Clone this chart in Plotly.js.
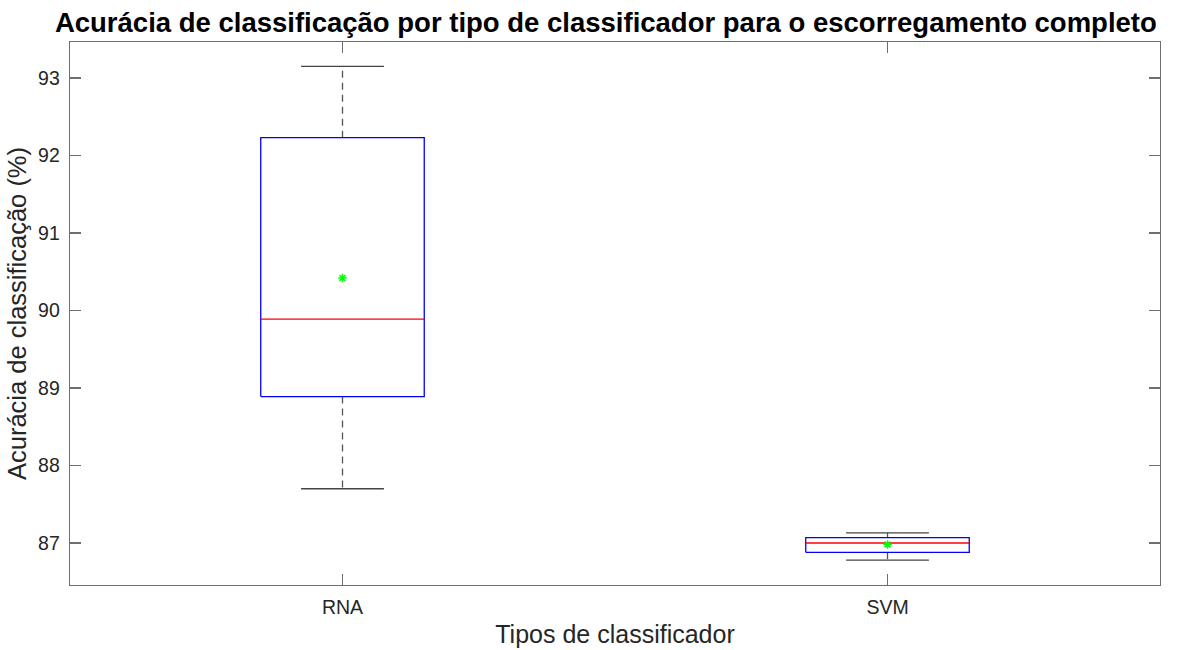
<!DOCTYPE html>
<html><head><meta charset="utf-8">
<script src="https://cdn.plot.ly/plotly-3.0.1.min.js"></script>
<style>body{margin:0;background:#fff}#c{width:1181px;height:650px}</style>
</head><body><div id="c"></div>
<script>
const categories = ['RNA', 'SVM'];
const positions = [1, 2];
const lowerWhisker = [87.70, 86.78];
const q1 = [88.89, 86.88];
const median = [89.89, 87.00];
const q3 = [92.23, 87.07];
const upperWhisker = [93.15, 87.13];
const meanVal = [90.42, 86.98];
const yTicks = [87, 88, 89, 90, 91, 92, 93];

const halfBox = 0.15, halfCap = 0.076;
const traces = [];
for (let i = 0; i < categories.length; i++) {
  const c = positions[i];
  traces.push({x:[c,c,null,c,c], y:[q3[i],upperWhisker[i],null,q1[i],lowerWhisker[i]], mode:'lines', line:{color:'#555', width:1.3, dash:'7px,5px'}, hoverinfo:'skip', showlegend:false});
  traces.push({x:[c-halfCap,c+halfCap,null,c-halfCap,c+halfCap], y:[upperWhisker[i],upperWhisker[i],null,lowerWhisker[i],lowerWhisker[i]], mode:'lines', line:{color:'#444', width:1.3}, hoverinfo:'skip', showlegend:false});
  traces.push({x:[c-halfBox,c+halfBox,c+halfBox,c-halfBox,c-halfBox], y:[q1[i],q1[i],q3[i],q3[i],q1[i]], mode:'lines', line:{color:'#0000ff', width:1.3}, hoverinfo:'skip', showlegend:false});
  traces.push({x:[c-halfBox,c+halfBox], y:[median[i],median[i]], mode:'lines', line:{color:'#ff0000', width:1.3}, hoverinfo:'skip', showlegend:false});
}
traces.push({x:positions, y:meanVal, mode:'markers', marker:{symbol:'asterisk-open', size:7, color:'#00ff00', line:{color:'#00ff00', width:1.5}}, showlegend:false});

const FONT = 'Liberation Sans, Arial, sans-serif';
const axisCommon = {showgrid:false, zeroline:false, showline:true, linecolor:'#6e6e6e', linewidth:1.3, mirror:'allticks', ticks:'inside', ticklen:11, tickcolor:'#6e6e6e', tickwidth:1.3, tickfont:{family:FONT, size:19.5, color:'#262626'}};

const layout = {
  width:1181, height:650,
  margin:{l:70, r:21, t:42, b:65},
  paper_bgcolor:'#fff', plot_bgcolor:'#fff',
  title:{text:'<b>Acurácia de classificação por tipo de classificador para o escorregamento completo</b>', font:{family:FONT, size:27.5, color:'#000'}, x:0.513, xanchor:'center', y:0.965, yanchor:'middle'},
  xaxis: Object.assign({}, axisCommon, {range:[0.5,2.5], tickvals:positions, ticktext:categories, ticklabelstandoff:4, title:{text:'Tipos de classificador', font:{family:FONT, size:25, color:'#262626'}, standoff:8}}),
  yaxis: Object.assign({}, axisCommon, {range:[86.458,93.465], tickvals:yTicks, ticklabelstandoff:5, title:{text:'Acurácia de classificação (%)', font:{family:FONT, size:25.5, color:'#262626'}, standoff:4}})
};
Plotly.newPlot('c', traces, layout, {displayModeBar:false, staticPlot:true});
</script></body></html>
